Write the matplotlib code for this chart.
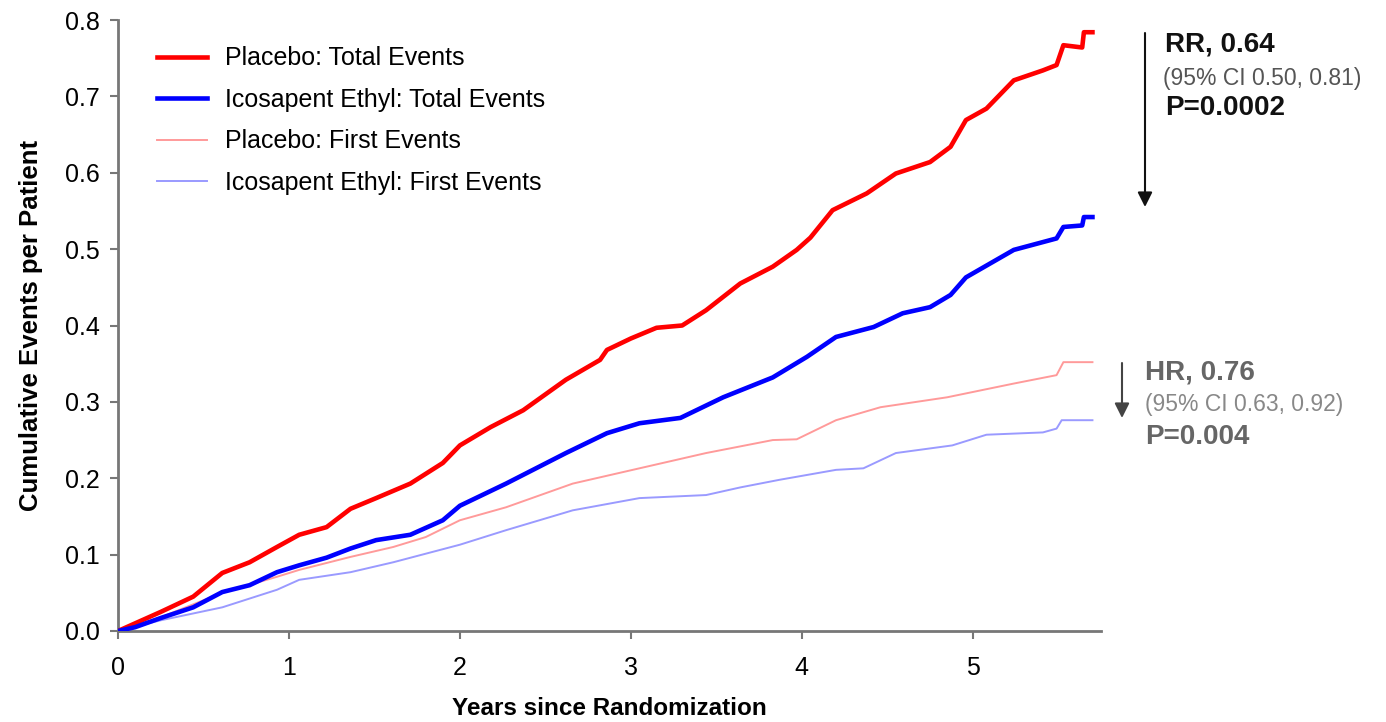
import matplotlib
matplotlib.use("Agg")
import matplotlib.pyplot as plt

plt.rcParams['font.family'] = ['Liberation Sans', 'DejaVu Sans']

# 数据：从原图读取（年, 每位患者累计事件数）
t_pbo_total = [0, 0.1, 0.25, 0.44, 0.61, 0.77, 0.93, 1.06, 1.22, 1.36, 1.51, 1.71, 1.90, 2.0,
               2.18, 2.37, 2.62, 2.82, 2.86, 3.0, 3.15, 3.30, 3.44, 3.64, 3.83, 3.97, 4.05,
               4.18, 4.38, 4.55, 4.75, 4.87, 4.96, 5.08, 5.24, 5.41, 5.49, 5.53, 5.64, 5.65, 5.70]
pbo_total = [0, 0.01, 0.025, 0.045, 0.076, 0.09, 0.11, 0.126, 0.136, 0.16, 0.174, 0.193, 0.22, 0.243,
             0.267, 0.289, 0.329, 0.355, 0.368, 0.383, 0.397, 0.40, 0.42, 0.455, 0.477, 0.499, 0.515,
             0.551, 0.573, 0.599, 0.614, 0.634, 0.669, 0.684, 0.721, 0.734, 0.741, 0.767, 0.764, 0.784, 0.784]

t_ipe_total = [0, 0.1, 0.25, 0.44, 0.61, 0.77, 0.93, 1.06, 1.22, 1.36, 1.51, 1.71, 1.90, 2.0,
               2.27, 2.62, 2.86, 3.05, 3.29, 3.54, 3.83, 4.03, 4.2, 4.42, 4.59, 4.75, 4.87,
               4.96, 5.24, 5.49, 5.53, 5.64, 5.65, 5.70]
ipe_total = [0, 0.005, 0.017, 0.031, 0.051, 0.06, 0.077, 0.086, 0.096, 0.108, 0.119, 0.126, 0.145, 0.164,
             0.193, 0.233, 0.259, 0.272, 0.279, 0.306, 0.332, 0.359, 0.385, 0.398, 0.416, 0.424, 0.44,
             0.463, 0.499, 0.514, 0.529, 0.531, 0.542, 0.542]

t_pbo_first = [0, 0.25, 0.61, 0.93, 1.06, 1.36, 1.61, 1.8, 2.0, 2.27, 2.66, 3.05, 3.44, 3.83,
               3.97, 4.2, 4.46, 4.85, 5.24, 5.49, 5.53, 5.70]
pbo_first = [0, 0.018, 0.05, 0.071, 0.08, 0.097, 0.11, 0.123, 0.145, 0.162, 0.193, 0.213, 0.233, 0.25,
             0.251, 0.276, 0.293, 0.306, 0.324, 0.335, 0.352, 0.352]

t_ipe_first = [0, 0.25, 0.61, 0.93, 1.06, 1.36, 1.61, 2.0, 2.27, 2.66, 3.05, 3.44, 3.64, 3.87,
               4.2, 4.36, 4.55, 4.88, 5.08, 5.41, 5.49, 5.52, 5.70]
ipe_first = [0, 0.014, 0.031, 0.054, 0.067, 0.077, 0.09, 0.113, 0.132, 0.158, 0.174, 0.178, 0.188, 0.198,
             0.211, 0.213, 0.233, 0.243, 0.257, 0.26, 0.265, 0.276, 0.276]

x_ticks = [0, 1, 2, 3, 4, 5]
y_ticks = [0.0, 0.1, 0.2, 0.3, 0.4, 0.5, 0.6, 0.7, 0.8]

W, H = 1386, 722
fig = plt.figure(figsize=(W / 100, H / 100), dpi=100)
ax = fig.add_axes([118 / W, 91 / H, 983 / W, 611 / H])

ax.plot(t_pbo_first, pbo_first, color='#ff9a9a', lw=1.4, label='Placebo: First Events', zorder=2)
ax.plot(t_ipe_first, ipe_first, color='#9a9aff', lw=1.4, label='Icosapent Ethyl: First Events', zorder=2)
ax.plot(t_pbo_total, pbo_total, color='#ff0000', lw=3.3, label='Placebo: Total Events', zorder=3)
ax.plot(t_ipe_total, ipe_total, color='#0000ff', lw=3.3, label='Icosapent Ethyl: Total Events', zorder=3)

ax.set_xlim(0, 5.75)
ax.set_ylim(0, 0.8)
ax.set_xticks(x_ticks)
ax.set_yticks(y_ticks)
ax.set_yticklabels([f'{v:.1f}' for v in y_ticks])
ax.tick_params(labelsize=18, length=6, width=1.5, color='#777777', pad=7)
ax.tick_params(axis='x', pad=12)
for s in ['top', 'right']:
    ax.spines[s].set_visible(False)
for s in ['left', 'bottom']:
    ax.spines[s].set_color('#777777')
    ax.spines[s].set_linewidth(2)

ax.set_xlabel('Years since Randomization', fontsize=17.5, fontweight='bold', labelpad=12)
ax.set_ylabel('Cumulative Events per Patient', fontsize=18.5, fontweight='bold', labelpad=16)

h, l = ax.get_legend_handles_labels()
order = [2, 3, 0, 1]
ax.legend([h[i] for i in order], [l[i] for i in order], loc='upper left',
          bbox_to_anchor=(0.040, 0.957), frameon=False, fontsize=18,
          handlelength=2.0, handletextpad=0.7, labelspacing=0.70,
          borderpad=0, borderaxespad=0)

# 右侧注释
fig.text(1165 / W, 1 - 45 / H, 'RR, 0.64', fontsize=20, fontweight='bold', color='#111111', va='center')
fig.text(1163 / W, 1 - 78 / H, '(95% CI 0.50, 0.81)', fontsize=16.5, color='#555555', va='center')
fig.text(1165 / W, 1 - 108 / H, 'P=0.0002', fontsize=20, fontweight='bold', color='#111111', va='center')

fig.text(1145 / W, 1 - 373 / H, 'HR, 0.76', fontsize=20, fontweight='bold', color='#666666', va='center')
fig.text(1145 / W, 1 - 405 / H, '(95% CI 0.63, 0.92)', fontsize=16.5, color='#888888', va='center')
fig.text(1145 / W, 1 - 437 / H, 'P=0.004', fontsize=20, fontweight='bold', color='#666666', va='center')

ax.annotate('', xy=(1145, H - 207), xytext=(1145, H - 33), xycoords='figure pixels',
            textcoords='figure pixels',
            arrowprops=dict(arrowstyle='-|>', color='#111111', lw=1.5, mutation_scale=22,
                            shrinkA=0, shrinkB=0))
ax.annotate('', xy=(1122, H - 418), xytext=(1122, H - 363), xycoords='figure pixels',
            textcoords='figure pixels',
            arrowprops=dict(arrowstyle='-|>', color='#444444', lw=1.5, mutation_scale=22,
                            shrinkA=0, shrinkB=0))

plt.savefig('out.png', dpi=100)
